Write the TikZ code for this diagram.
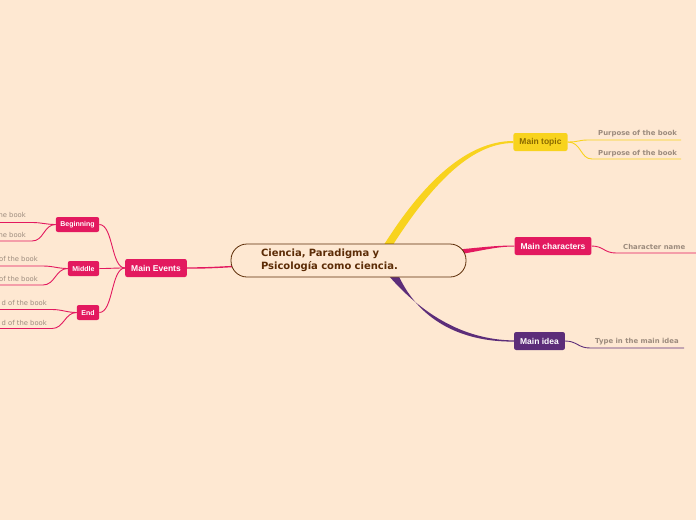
\documentclass[tikz,border=0pt]{standalone}
\usepackage{fontspec}
\setmainfont{Liberation Sans}
\newfontfamily\mapfont{DejaVu Sans}
\usetikzlibrary{calc,positioning}
\definecolor{paper}{HTML}{FEE8D2}
\definecolor{rootink}{HTML}{5C2C06}
\definecolor{hot}{HTML}{E3195F}
\definecolor{sun}{HTML}{F8D31E}
\definecolor{sunink}{HTML}{8A6A00}
\definecolor{plum}{HTML}{5C2D79}
\definecolor{muted}{HTML}{9C8B7D}
\tikzset{
  root/.style={draw=rootink,line width=.8pt,rounded corners=16pt,fill=paper,
    text width=175pt,inner xsep=30pt,minimum height=33pt,align=left,
    font=\mapfont\bfseries\fontsize{10}{12.5}\selectfont,text=rootink},
  topic/.style={rounded corners=2pt,minimum height=18pt,inner xsep=6pt,inner ysep=0pt,
    font=\bfseries\fontsize{8.5}{9}\selectfont,text=white},
  event/.style={topic,minimum height=15pt,inner xsep=4.5pt,
    font=\bfseries\fontsize{7}{8}\selectfont},
  subtext/.style={inner sep=0pt,text=muted,font=\mapfont\bfseries\fontsize{6.9}{8}\selectfont},
  evtext/.style={inner sep=0pt,text=muted,font=\mapfont\fontsize{6.8}{8}\selectfont},
  twig/.style={line width=.9pt}
}
\begin{document}
\begin{tikzpicture}[x=1pt,y=-1pt]
\useasboundingbox (0,0) rectangle (696,520);
\fill[paper] (0,0) rectangle (696,520);
\clip (0,0) rectangle (696,520);
% main branches
\node[topic,fill=sun,text=sunink] (mtopic) at (540.5,142) {Main topic};
\node[topic,fill=hot] (mchar) at (553,246) {Main characters};
\node[topic,fill=plum] (midea) at (539.5,341) {Main idea};
\node[topic,fill=hot] (mevents) at (156,268) {Main Events};
\node[event,fill=hot] (begin) at (77.5,224.5) {Beginning};
\node[event,fill=hot] (middle) at (83.5,268.5) {Middle};
\node[event,fill=hot] (theend) at (88,312.5) {End};
\coordinate (rootc) at (348.5,260.5);
\fill[sun] ($(rootc)+(35,-15)$) .. controls (422,184) and (466,141) .. ($(mtopic.west)+(0,-1)$)
  -- ($(mtopic.west)+(0,1)$) .. controls (470,143) and (430,187) .. ($(rootc)+(44,-15)$) -- cycle;
\fill[plum] ($(rootc)+(40,15)$) .. controls (420,312) and (462,340) .. ($(midea.west)+(0,-.6)$)
  -- ($(midea.west)+(0,.6)$) .. controls (458,342) and (418,318) .. ($(rootc)+(50,15)$) -- cycle;
\fill[hot] ($(rootc)+(110,-11)$) .. controls (485,247) and (497,245.5) .. ($(mchar.west)+(0,-.5)$)
  -- ($(mchar.west)+(0,.5)$) .. controls (497,246.5) and (485,250) .. ($(rootc)+(110,-6)$) -- cycle;
\draw[hot,line width=1.4pt] ($(rootc)+(-115,6)$) .. controls +(-20,1) and +(20,0) .. (mevents.east);
\node[root] (root) at (rootc) {Ciencia, Paradigma y\\Psicología como ciencia.};
% events
\foreach \kid in {begin,middle,theend}
  \draw[hot,twig] (mevents.west) .. controls +(-14,0) and +(14,0) .. (\kid.east);
\coordinate (b1) at (0,222.5); \coordinate (b2) at (0,241);
\coordinate (m1) at (0,266); \coordinate (m2) at (0,285);
\coordinate (e1) at (0,309.5); \coordinate (e2) at (0,328.5);
\draw[hot,twig] (begin.west) .. controls +(-10,0) and +(10,0) .. ($(b1)+(32,0)$) -- (b1);
\draw[hot,twig] (begin.west) .. controls +(-12,0) and +(12,0) .. ($(b2)+(32,0)$) -- (b2);
\draw[hot,twig] (middle.west) .. controls +(-10,0) and +(10,0) .. ($(m1)+(43,0)$) -- (m1);
\draw[hot,twig] (middle.west) .. controls +(-12,0) and +(12,0) .. ($(m2)+(43,0)$) -- (m2);
\draw[hot,twig] (theend.west) .. controls +(-10,0) and +(10,0) .. ($(e1)+(52,0)$) -- (e1);
\draw[hot,twig] (theend.west) .. controls +(-12,0) and +(12,0) .. ($(e2)+(52,0)$) -- (e2);
\node[evtext,anchor=base east] (b1t) at (26,217) {he book};
\node[evtext,anchor=base east] (b2t) at (26,237) {he book};
\node[evtext,anchor=base east] (m1t) at (38,261) {of the book};
\node[evtext,anchor=base east] (m2t) at (38,281) {of the book};
\node[evtext,anchor=base east] (e1t) at (47,305) {d of the book};
\node[evtext,anchor=base east] (e2t) at (47,325) {d of the book};
% right twigs
\coordinate (t1) at (681,140); \coordinate (t2) at (681,159);
\coordinate (c1) at (696,253); \coordinate (i1) at (684,348);
\draw[sun,twig] (mtopic.east) .. controls +(12,0) and +(-10,0) .. (588,140) -- (t1);
\draw[sun,twig] (mtopic.east) .. controls +(14,0) and +(-12,0) .. (592,159) -- (t2);
\draw[hot,twig] (mchar.east) .. controls +(12,0) and +(-12,0) .. (616,253) -- (c1);
\draw[plum,twig] (midea.east) .. controls +(12,0) and +(-12,0) .. (590,348) -- (i1);
\node[subtext,anchor=base west] (t1t) at (598,135) {Purpose of the book};
\node[subtext,anchor=base west] (t2t) at (598,155) {Purpose of the book};
\node[subtext,anchor=base west] (c1t) at (623,249) {Character name};
\node[subtext,anchor=base west] (i1t) at (595,343) {Type in the main idea};
\end{tikzpicture}
\end{document}
